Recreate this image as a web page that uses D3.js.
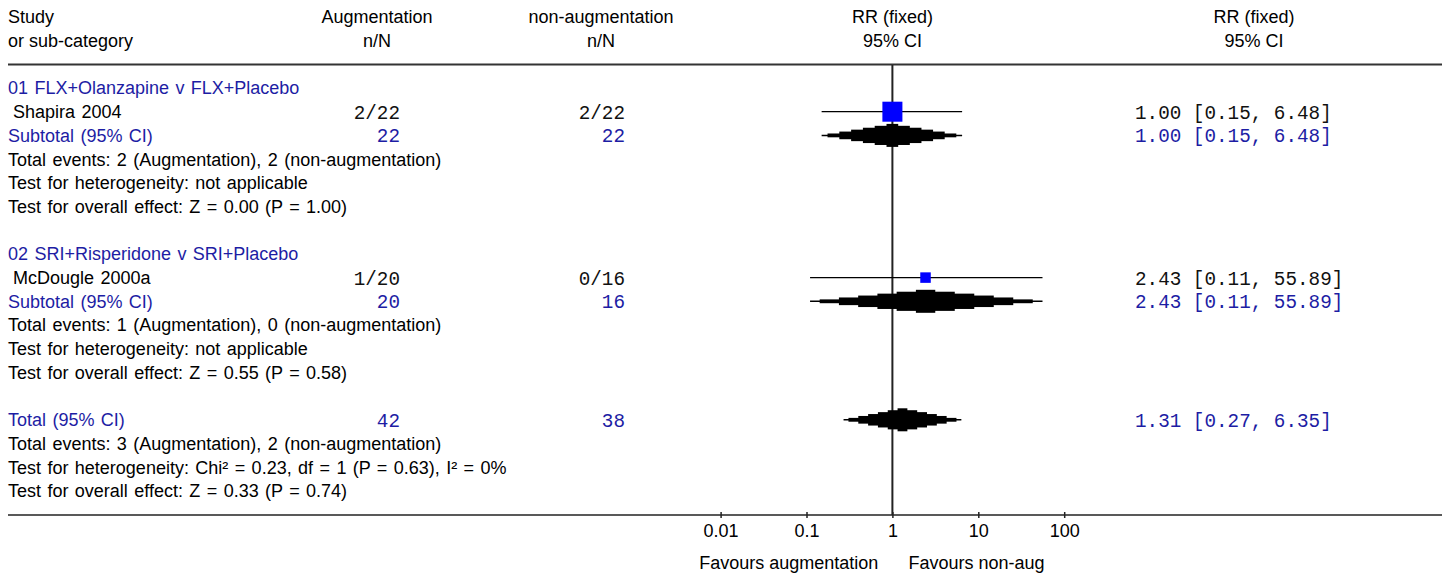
<!DOCTYPE html>
<html><head><meta charset="utf-8">
<script src="https://cdn.jsdelivr.net/npm/d3@7"></script>
<style>body{margin:0;background:#fff}svg{display:block}</style>
</head><body>
<script>
// ---- data ----
const groups = ["01 FLX+Olanzapine v FLX+Placebo", "02 SRI+Risperidone v SRI+Placebo"];
const studies = ["Shapira 2004", "McDougle 2000a"];
const augEvents = [2, 1];
const augN = [22, 20];
const nonEvents = [2, 0];
const nonN = [22, 16];
const studyRR = [1.00, 2.43];
const studyLo = [0.15, 0.11];
const studyHi = [6.48, 55.89];
const studyWeight = [78.4, 21.6];
const subRR = [1.00, 2.43];
const subLo = [0.15, 0.11];
const subHi = [6.48, 55.89];
const subAugN = [22, 20];
const subNonN = [22, 16];
const subEvents = ["Total events: 2 (Augmentation), 2 (non-augmentation)", "Total events: 1 (Augmentation), 0 (non-augmentation)"];
const subHet = ["Test for heterogeneity: not applicable", "Test for heterogeneity: not applicable"];
const subEffect = ["Test for overall effect: Z = 0.00 (P = 1.00)", "Test for overall effect: Z = 0.55 (P = 0.58)"];
const totalRR = 1.31, totalLo = 0.27, totalHi = 6.35;
const totalAugN = 42, totalNonN = 38;
const totalLines = ["Total events: 3 (Augmentation), 2 (non-augmentation)",
  "Test for heterogeneity: Chi\u00b2 = 0.23, df = 1 (P = 0.63), I\u00b2 = 0%",
  "Test for overall effect: Z = 0.33 (P = 0.74)"];
const tickValues = [0.01, 0.1, 1, 10, 100];
const tickLabels = ["0.01", "0.1", "1", "10", "100"];
const headers1 = ["Study", "Augmentation", "non-augmentation", "RR (fixed)", "RR (fixed)"];
const headers2 = ["or sub-category", "n/N", "n/N", "95% CI", "95% CI"];
const favLeft = "Favours augmentation", favRight = "Favours non-aug";

// ---- layout ----
const W = 1448, H = 576;
const SANS = "'Liberation Sans', Arial, sans-serif";
const MONO = "'Liberation Mono', 'Courier New', monospace";
const BLUE = "#1d1da4";
const FS = 18, FM = 19.3;
const svg = d3.select("body").append("svg").attr("width", W).attr("height", H);

const x = d3.scaleLog().domain([0.01, 100]).range([720.6, 1064.2]);
const yRow = d3.scaleLinear().domain([0, 17]).range([88, 88 + 17 * 23.7]);
const sq = d3.scaleSqrt().domain([0, 100]).range([0, 22.6]);
const colAug = 400, colNon = 625, colRR = 1135, colHdrRR = 1254;
const fmt = (r, l, h) => `${r.toFixed(2)} [${l.toFixed(2)}, ${h.toFixed(2)}]`;

function txt(s, tx, ty, opts = {}) {
  const t = svg.append("text").attr("x", tx).attr("y", ty).attr("dy", "0.36em")
    .attr("font-family", opts.mono ? MONO : SANS)
    .attr("font-size", opts.mono ? FM : FS)
    .attr("fill", opts.color || (opts.mono ? "#111" : "#000"))
    .attr("text-anchor", opts.anchor || "start")
    .text(s);
  if (!opts.mono) t.attr("word-spacing", opts.ws != null ? opts.ws : 1.4);
  return t;
}

// headers
const hx = [8, 377, 601, x(1), colHdrRR];
headers1.forEach((h, i) => txt(h, hx[i], 17, {anchor: i === 0 ? "start" : "middle", ws: 0}));
headers2.forEach((h, i) => txt(h, hx[i], 41, {anchor: i === 0 ? "start" : "middle", ws: 0}));

svg.append("line").attr("x1", 8).attr("x2", 1442).attr("y1", 64.5).attr("y2", 64.5)
  .attr("stroke", "#333").attr("stroke-width", 2);
svg.append("line").attr("x1", 8).attr("x2", 1442).attr("y1", 515).attr("y2", 515)
  .attr("stroke", "#222").attr("stroke-width", 1.6);
svg.append("line").attr("x1", x(1)).attr("x2", x(1)).attr("y1", 65).attr("y2", 515)
  .attr("stroke", "#222").attr("stroke-width", 2);

function diamond(est, lo, hi, cy) {
  const Hh = 11.5, n = 6;
  const xe = x(est), xl = x(lo), xh = x(hi);
  svg.append("line").attr("x1", xl).attr("x2", xh).attr("y1", cy).attr("y2", cy)
    .attr("stroke", "#000").attr("stroke-width", 1.5);
  d3.range(1, n + 1).forEach(k => {
    const f = 1 - (k - 0.5) / n;
    const a = xe - f * (xe - xl), b = xe + f * (xh - xe);
    svg.append("rect").attr("x", a).attr("width", b - a)
      .attr("y", cy - k * Hh / n).attr("height", 2 * k * Hh / n).attr("fill", "#000");
  });
}

groups.forEach((g, i) => {
  const base = i * 7;
  txt(g, 8, yRow(base), {color: BLUE});
  // study row
  const ys = yRow(base + 1);
  txt(studies[i], 13, ys);
  txt(`${augEvents[i]}/${augN[i]}`, colAug, ys, {mono: true, anchor: "end"});
  txt(`${nonEvents[i]}/${nonN[i]}`, colNon, ys, {mono: true, anchor: "end"});
  svg.append("line").attr("x1", x(studyLo[i])).attr("x2", x(studyHi[i]))
    .attr("y1", ys).attr("y2", ys).attr("stroke", "#000").attr("stroke-width", 1.2);
  const s = sq(studyWeight[i]);
  svg.append("rect").attr("x", x(studyRR[i]) - s / 2).attr("y", ys - s / 2)
    .attr("width", s).attr("height", s).attr("fill", "#0000ff");
  txt(fmt(studyRR[i], studyLo[i], studyHi[i]), colRR, ys, {mono: true});
  // subtotal
  const yt = yRow(base + 2);
  txt("Subtotal (95% CI)", 8, yt, {color: BLUE});
  txt(String(subAugN[i]), colAug, yt, {mono: true, anchor: "end", color: BLUE});
  txt(String(subNonN[i]), colNon, yt, {mono: true, anchor: "end", color: BLUE});
  diamond(subRR[i], subLo[i], subHi[i], yt);
  txt(fmt(subRR[i], subLo[i], subHi[i]), colRR, yt, {mono: true, color: BLUE});
  txt(subEvents[i], 8, yRow(base + 3));
  txt(subHet[i], 8, yRow(base + 4));
  txt(subEffect[i], 8, yRow(base + 5));
});

// total
const yT = yRow(14);
txt("Total (95% CI)", 8, yT, {color: BLUE});
txt(String(totalAugN), colAug, yT, {mono: true, anchor: "end", color: BLUE});
txt(String(totalNonN), colNon, yT, {mono: true, anchor: "end", color: BLUE});
diamond(totalRR, totalLo, totalHi, yT);
txt(fmt(totalRR, totalLo, totalHi), colRR, yT, {mono: true, color: BLUE});
totalLines.forEach((t, k) => txt(t, 8, yRow(15 + k)));

// axis
const axis = d3.axisBottom(x).tickValues(tickValues).tickFormat((d, i) => tickLabels[i]).tickSize(3);
const ag = svg.append("g").attr("transform", "translate(0,515)").call(axis);
ag.select(".domain").remove();
ag.selectAll(".tick line").attr("y1", -3).attr("y2", 3).attr("stroke", "#222").attr("stroke-width", 1.5);
ag.selectAll(".tick text").attr("y", 15.7).attr("dy", "0.36em")
  .attr("font-family", SANS).attr("font-size", FS).attr("fill", "#000");

txt(favLeft, x(1) - 14, 562.7, {anchor: "end", ws: 0});
txt(favRight, x(1) + 16, 562.7, {ws: 0});
</script>
</body></html>
